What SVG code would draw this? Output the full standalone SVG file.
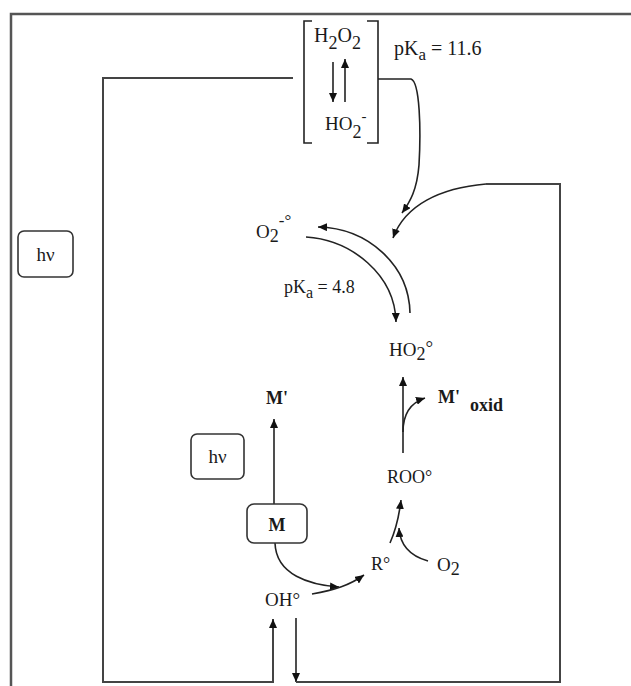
<svg xmlns="http://www.w3.org/2000/svg" width="631" height="686" viewBox="0 0 631 686">
<defs>
<style>
.t{font-family:"Liberation Serif","Times New Roman",serif;font-size:18px;fill:#1a1a1a}
.b{font-weight:bold}
.ln{fill:none;stroke:#222;stroke-width:1.6}
.fr{fill:none;stroke:#555;stroke-width:2.5}
.lp{fill:none;stroke:#444;stroke-width:2}
.bx{fill:#fff;stroke:#333;stroke-width:1.6}
</style>
<marker id="ah" markerWidth="9" markerHeight="8" refX="9" refY="4" orient="auto" markerUnits="userSpaceOnUse">
<path d="M0,0 L9,4 L0,8 z" fill="#111"/>
</marker>
</defs>
<rect width="631" height="686" fill="#fff"/>
<g id="frame">
<path class="fr" d="M11,686 V14 H631"/>
</g>
<g id="connectors">
<path class="lp" d="M293,78 H103 V682 H273 V619" marker-end="url(#ah)"/>
<path class="ln" d="M296,618 V682" marker-end="url(#ah)"/>
<path class="lp" d="M296,682 H560 V184 H486"/>
<path class="ln" d="M486,184 C440,188 405,205 393,238" marker-end="url(#ah)"/>
<path class="ln" d="M378,79 H411 C420,82 421,130 419,165 C417,190 410,202 402,213" marker-end="url(#ah)"/>
<path class="ln" d="M333,62 V102" marker-end="url(#ah)"/>
<path class="ln" d="M345,102 V59" marker-end="url(#ah)"/>
<path class="ln" d="M410,313 C409,265 368,228 318,227" marker-end="url(#ah)"/>
<path class="ln" d="M306,237 C352,240 395,275 396,322" marker-end="url(#ah)"/>
<path class="ln" d="M403,453 V377" marker-end="url(#ah)"/>
<path class="ln" d="M403,432 C403,414 410,403 425,398" marker-end="url(#ah)"/>
<path class="ln" d="M390,543 Q398,525 401,500" marker-end="url(#ah)"/>
<path class="ln" d="M428,561 C410,556 400,545 399,528" marker-end="url(#ah)"/>
<path class="ln" d="M274,504 V419" marker-end="url(#ah)"/>
<path class="ln" d="M275,543 C276,575 310,585 339,587" marker-end="url(#ah)"/>
<path class="ln" d="M312,594 C335,590 350,585 364,575" marker-end="url(#ah)"/>
</g>
<g id="h2o2-bracket">
<path class="ln" d="M312,21 H304 V143 H312"/>
<path class="ln" d="M367,21 H378 V143 H367"/>
<text class="t" x="314" y="42" style="font-size:20px">H<tspan dy="7" style="font-size:18px">2</tspan><tspan dy="-7">O</tspan><tspan dy="7" style="font-size:18px">2</tspan></text>
<text class="t" x="325" y="130" style="font-size:19px">HO<tspan dy="8" style="font-size:18px">2</tspan><tspan dy="-17" style="font-size:15px">-</tspan></text>
</g>
<g id="pka1"><text class="t" x="394" y="55" style="font-size:20px">pK<tspan dy="5" style="font-size:17px">a</tspan><tspan dy="-5"> = 11.6</tspan></text></g>
<g id="hv-outer">
<rect class="bx" x="18" y="231" width="55" height="46" rx="6"/>
<text class="t" x="45.5" y="261" text-anchor="middle" style="font-size:19px">hν</text>
</g>
<g id="o2rad"><text class="t" x="256" y="238" style="font-size:19px">O<tspan dy="4" style="font-size:18px">2</tspan><tspan dy="-16" style="font-size:17px">-°</tspan></text></g>
<g id="pka2"><text class="t" x="284" y="293">pK<tspan dy="5" style="font-size:16px">a</tspan><tspan dy="-5"> = 4.8</tspan></text></g>
<g id="ho2rad"><text class="t" x="389" y="356" style="font-size:19px">HO<tspan dy="4" style="font-size:18px">2</tspan><tspan dy="-6">°</tspan></text></g>
<g id="moxid"><text class="t b" x="438" y="403">M'<tspan dx="10" dy="8">oxid</tspan></text></g>
<g id="mprime"><text class="t b" x="266" y="404">M'</text></g>
<g id="hv-inner">
<rect class="bx" x="191" y="434" width="53" height="45" rx="6"/>
<text class="t" x="217.5" y="463" text-anchor="middle" style="font-size:19px">hν</text>
</g>
<g id="roo"><text class="t" x="387" y="483">ROO°</text></g>
<g id="m">
<rect class="bx" x="247" y="504" width="60" height="39" rx="7"/>
<text class="t b" x="277" y="531" text-anchor="middle">M</text>
</g>
<g id="r"><text class="t" x="371" y="570">R°</text></g>
<g id="o2"><text class="t" x="437" y="571" style="font-size:19px">O<tspan dy="4" style="font-size:18px">2</tspan></text></g>
<g id="oh"><text class="t" x="265" y="606" style="font-size:19px">OH°</text></g>
</svg>
